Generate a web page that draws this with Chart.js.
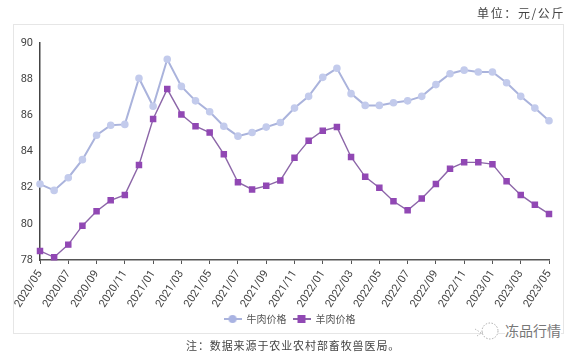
<!DOCTYPE html>
<html lang="zh"><head><meta charset="utf-8">
<script src="https://cdn.jsdelivr.net/npm/chart.js@4"></script>
<style>
html,body{margin:0;padding:0;background:#fff;overflow:hidden}
#wrap{position:relative;width:579px;height:356px}
#frame{position:absolute;left:13px;top:24px;width:551px;height:310px;border:1px solid #e6e6e6;box-sizing:border-box}
canvas{position:absolute;left:0;top:0}
.t{position:absolute;font-family:"Noto Sans CJK SC";white-space:nowrap;color:#444}
</style></head><body>
<div id="wrap">
<div id="frame"></div>
<canvas id="c" width="579" height="356"></canvas>
<div class="t" style="right:14px;top:4px;font-size:12px;letter-spacing:1.6px">单位：元/公斤</div>
<div class="t" style="left:186px;top:337px;font-size:11px;letter-spacing:.9px">注：数据来源于农业农村部畜牧兽医局。</div>
<svg style="position:absolute;left:474px;top:320px" width="30" height="24"><circle cx="16" cy="11" r="8" fill="#fff" stroke="#aaa" stroke-dasharray="1.5 1.5"/><path d="M1 9 L9 14 M3 16 L9 12" stroke="#bbb" stroke-dasharray="1.5 1.5" fill="none"/></svg>
<div class="t" style="left:505px;top:320px;font-size:14px;color:#777;background:#fff;line-height:20px">冻品行情</div>
</div>
<script>
const categories = ["2020/05","2020/06","2020/07","2020/08","2020/09","2020/10","2020/11","2020/12","2021/01","2021/02","2021/03","2021/04","2021/05","2021/06","2021/07","2021/08","2021/09","2021/10","2021/11","2021/12","2022/01","2022/02","2022/03","2022/04","2022/05","2022/06","2022/07","2022/08","2022/09","2022/10","2022/11","2022/12","2023/01","2023/02","2023/03","2023/04","2023/05"];
const beefPrice = [82.2,81.85,82.55,83.55,84.9,85.45,85.5,88.05,86.5,89.1,87.6,86.8,86.2,85.4,84.85,85.05,85.35,85.6,86.4,87.05,88.1,88.6,87.2,86.55,86.55,86.7,86.8,87.05,87.7,88.3,88.5,88.4,88.4,87.8,87.05,86.4,85.7];
const muttonPrice = [78.5,78.15,78.85,79.9,80.7,81.3,81.6,83.25,85.8,87.45,86.05,85.4,85.05,83.85,82.3,81.9,82.1,82.4,83.65,84.6,85.15,85.35,83.7,82.6,82.0,81.25,80.75,81.4,82.2,83.05,83.4,83.4,83.3,82.35,81.6,81.05,80.55];
const seriesNames = ["牛肉价格","羊肉价格"];

function legendIcon(line, fill, square){
  const k=document.createElement('canvas');k.width=18;k.height=10;
  const g=k.getContext('2d');
  g.strokeStyle=line;g.lineWidth=2;g.beginPath();g.moveTo(0,5);g.lineTo(18,5);g.stroke();
  g.fillStyle=fill;
  if(square){g.fillRect(5,1,8,8);}else{g.beginPath();g.arc(9,5,4,0,7);g.fill();}
  return k;
}
const beefLine='#aab3dc', beefFill='#c3cbec', muttonLine='#8c66a8', muttonFill='#9148b4';
const yFont={family:'Roboto',size:11};
const xFont={family:'Roboto',size:11};
const shiftLegend={id:'shiftLegend',afterLayout(chart){chart.legend.left+=8;chart.legend.right+=8;}};
new Chart(document.getElementById('c'),{
  type:'line',
  plugins:[shiftLegend],
  data:{labels:categories,datasets:[
    {label:seriesNames[0],data:beefPrice,borderColor:beefLine,backgroundColor:beefFill,borderWidth:2,pointStyle:'circle',pointRadius:2.8,pointBackgroundColor:beefFill,pointBorderColor:beefFill,tension:0,clip:false},
    {label:seriesNames[1],data:muttonPrice,borderColor:muttonLine,backgroundColor:muttonFill,borderWidth:1.4,pointStyle:'rect',pointRadius:3.6,pointBackgroundColor:muttonFill,pointBorderColor:muttonFill,tension:0,clip:false}
  ]},
  options:{
    responsive:false,animation:false,
    layout:{padding:{left:14,right:30,top:43,bottom:22}},
    plugins:{tooltip:{enabled:false},
      legend:{position:'bottom',align:'center',
        labels:{font:{family:'"Noto Sans CJK SC"',size:10},color:'#555',boxWidth:18,boxHeight:10,padding:6,
          usePointStyle:true,pointStyleWidth:18,
          generateLabels(){return [
            {text:seriesNames[0],pointStyle:legendIcon(beefLine,'#a9b3e2',false),datasetIndex:0,fontColor:'#555',lineWidth:0},
            {text:seriesNames[1],pointStyle:legendIcon(muttonLine,muttonFill,true),datasetIndex:1,fontColor:'#555',lineWidth:0}
          ];}
        }}},
    scales:{
      x:{offset:false,
        afterBuildTicks(s){s.ticks=s.ticks.filter((t,i)=>i%2===0);},
        afterFit(s){s.height=48;},
        grid:{display:true,drawOnChartArea:false,drawTicks:true,tickLength:4,color:'#555'},
        border:{color:'#555',width:1.5},
        ticks:{autoSkip:false,maxRotation:57,minRotation:57,font:xFont,color:'#444',padding:4}},
      y:{min:78,max:90,
        afterFit(s){s.width=26;},
        grid:{display:false,drawTicks:false},
        border:{color:'#444',width:1.5},
        ticks:{stepSize:2,font:yFont,color:'#444',padding:7}}
    }
  }
});
</script>
</body></html>
